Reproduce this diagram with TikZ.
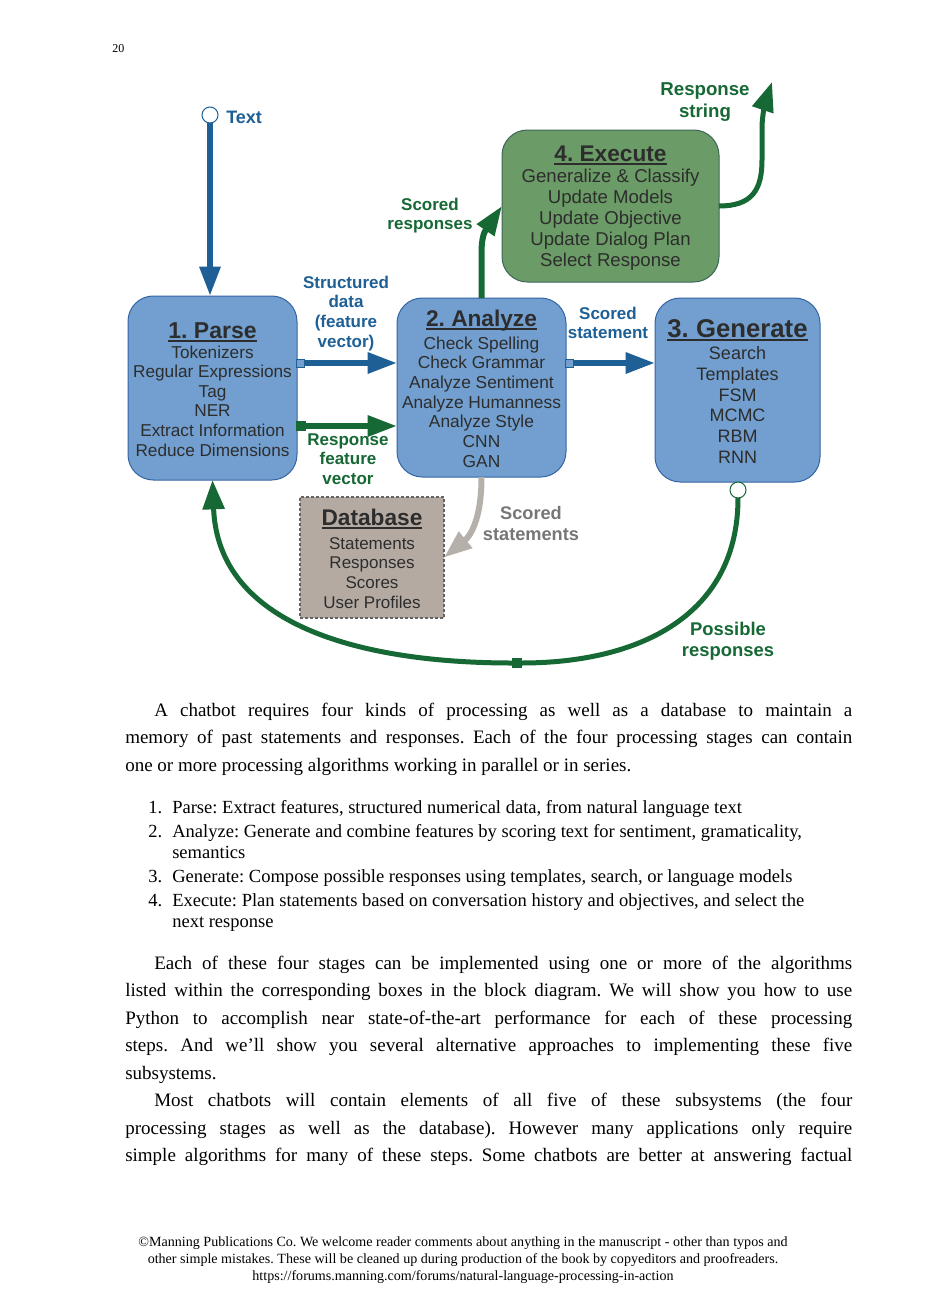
\documentclass[tikz,border=0pt]{standalone}
\usepackage{fontspec}
\setmainfont{Liberation Serif}
\newfontfamily\sans{Liberation Sans}
\usetikzlibrary{arrows.meta}
\definecolor{boxblue}{RGB}{114,159,207}
\definecolor{boxblueline}{RGB}{52,101,164}
\definecolor{boxgreen}{RGB}{107,155,102}
\definecolor{boxgreenline}{RGB}{62,102,90}
\definecolor{dbfill}{RGB}{180,170,162}
\definecolor{dbline}{RGB}{100,100,100}
\definecolor{arrblue}{RGB}{30,96,150}
\definecolor{arrgreen}{RGB}{22,104,52}
\definecolor{arrgrey}{RGB}{182,176,170}
\definecolor{lblgrey}{RGB}{118,118,118}
\definecolor{txt}{RGB}{45,45,45}
\newcommand\titleul[1]{\setbox0\hbox{#1}\rlap{\vrule height -1.5pt depth 3pt width \wd0}\box0}
\frenchspacing
\begin{document}
\begin{tikzpicture}[x=0.75pt,y=-0.75pt,
  box/.style={rounded corners=19pt, line width=0.75pt, inner sep=0pt, outer sep=0pt},
  bluebox/.style={box, draw=boxblueline, fill=boxblue},
  greenbox/.style={box, draw=boxgreenline, fill=boxgreen},
  dbbox/.style={inner sep=0pt, outer sep=0pt, draw=dbline, fill=dbfill, line width=1.1pt, dash pattern=on 2.25pt off 1.5pt},
  ttl/.style={font=\sans\bfseries\fontsize{17.25pt}{20pt}\selectfont, text=txt, anchor=base, inner sep=0pt},
  bodytxt/.style={font=\sans\fontsize{12.9pt}{15pt}\selectfont, text=txt, anchor=base, inner sep=0pt},
  lbl/.style={font=\sans\bfseries\fontsize{12.75pt}{15pt}\selectfont, anchor=base, inner sep=0pt},
  para/.style={font=\fontsize{14.25pt}{17pt}\selectfont, anchor=base west, inner sep=0pt, text=black},
  listtxt/.style={para, font=\fontsize{13.9pt}{16pt}\selectfont},
  foot/.style={font=\fontsize{10.55pt}{12pt}\selectfont, anchor=base, inner sep=0pt, text=black},
  sqb/.style={draw=arrblue, fill=boxblue, line width=0.75pt, minimum size=6pt, inner sep=0pt, outer sep=0pt},
  sqg/.style={draw=arrgreen, fill=arrgreen, line width=0.75pt, minimum size=6.5pt, inner sep=0pt, outer sep=0pt},
  bluearr/.style={draw=arrblue, line width=4.5pt, -{Triangle[length=22pt,width=15pt]}},
  greenarr/.style={draw=arrgreen, line width=4.5pt, -{Triangle[length=22pt,width=15pt]}},
  greenthin/.style={draw=arrgreen, line width=3.75pt},
  greenthinarr/.style={draw=arrgreen, line width=3.75pt, -{Triangle[length=22pt,width=16pt]}},
  greyarr/.style={draw=arrgrey, line width=4.5pt, -{Triangle[length=21pt,width=15pt]}}
]
\fill[white] (0,0) rectangle (926,1310);
\useasboundingbox (0,0) rectangle (926,1310);

% page number
\node[anchor=base west, inner sep=0pt, font=\fontsize{9pt}{11pt}\selectfont] (pnum) at (112,52) {20};

% boxes
\node[bluebox, minimum width=126.75pt, minimum height=138pt] (parse) at (212.5,388) {};
\node[bluebox, minimum width=126.75pt, minimum height=134.25pt] (analyze) at (481.5,387.5) {};
\node[bluebox, minimum width=123.75pt, minimum height=138pt] (generate) at (737.5,390) {};
\node[greenbox, minimum width=162.75pt, minimum height=114pt] (exec) at (610.5,206) {};
\node[dbbox, minimum width=108pt, minimum height=90.75pt] (db) at (372,557.5) {};

% box texts
\node[ttl] (parsettl) at (212.5,338) {\titleul{1. Parse}};
\foreach \t [count=\i from 0] in {Tokenizers,Regular Expressions,Tag,NER,Extract Information,Reduce Dimensions}
  \node[bodytxt] (p\i) at (212.5,{358+\i*19.6}) {\t};

\node[ttl, font=\sans\bfseries\fontsize{17pt}{20pt}\selectfont] (anattl) at (481.5,326) {\titleul{2. Analyze}};
\foreach \t [count=\i from 0] in {Check Spelling,Check Grammar,Analyze Sentiment,Analyze Humanness,Analyze Style,CNN,GAN}
  \node[bodytxt, font=\sans\fontsize{13pt}{15pt}\selectfont] (a\i) at (481.5,{349+\i*19.67}) {\t};

\node[ttl, font=\sans\bfseries\fontsize{19.3pt}{22pt}\selectfont] (genttl) at (737.5,337) {\titleul{3. Generate}};
\foreach \t [count=\i from 0] in {Search,Templates,FSM,MCMC,RBM,RNN}
  \node[bodytxt, font=\sans\fontsize{13.5pt}{16pt}\selectfont] (g\i) at (737.5,{359.5+\i*20.8}) {\t};

\node[ttl, font=\sans\bfseries\fontsize{17pt}{20pt}\selectfont] (exttl) at (610.5,161) {\titleul{4. Execute}};
\foreach \t [count=\i from 0] in {Generalize \& Classify,Update Models,Update Objective,Update Dialog Plan,Select Response}
  \node[bodytxt, font=\sans\fontsize{13.95pt}{16pt}\selectfont] (e\i) at (610.5,{182.5+\i*21}) {\t};

\node[ttl, font=\sans\bfseries\fontsize{17pt}{20pt}\selectfont] (dbttl) at (372,525) {\titleul{Database}};
\foreach \t [count=\i from 0] in {Statements,Responses,Scores,User Profiles}
  \node[bodytxt, font=\sans\fontsize{12.75pt}{15pt}\selectfont] (d\i) at (372,{549+\i*19.7}) {\t};

% terminals and small squares
\node[circle, draw=arrblue, fill=white, line width=0.75pt, minimum size=12pt, inner sep=0pt, outer sep=0pt] (tcirc) at (210,115) {};
\node[circle, draw=arrgreen, fill=white, line width=0.75pt, minimum size=12pt, inner sep=0pt, outer sep=0pt] (gcirc) at (738,490) {};
\node[sqb] (sq1) at (300,363) {};
\node[sqg] (sq2) at (301,426) {};
\node[sqb] (sq3) at (569.5,363) {};
\node[sqg] (sq4) at (517,663) {};
\coordinate (rstip) at (772,82);

% connectors
\draw[bluearr] (tcirc.south) -- (tcirc.south |- parse.north);
\draw[bluearr] (sq1.east) -- (analyze.west |- sq1);
\draw[greenarr] (sq2.east) -- (analyze.west |- sq2);
\draw[bluearr] (sq3.east) -- (generate.west |- sq3);
\draw[greenarr] (analyze.north) -- ++(0,-45) .. controls +(0,-17) and (485,231) .. (exec.west);
\draw[greenthinarr] (exec.east) .. controls (752,206) and (762,190) .. (762,160) -- (762,128) .. controls (762,115) and (766,100) .. (rstip);
\draw[greyarr] (analyze.south) .. controls (481.5,522) and (469,537) .. (db.east);
\draw[greenthin] (gcirc.south) .. controls (738,615) and (640,663) .. (sq4.east);
\draw[greenthinarr] (sq4.west) .. controls (360,663) and (218,625) .. (parse.south);

% labels
\node[lbl, anchor=base west, text=arrblue, font=\sans\bfseries\fontsize{13.5pt}{16pt}\selectfont] (ltext) at (226,123.5) {Text};
\foreach \t [count=\i from 0] in {Structured,data,{(feature},{vector)}}
  \node[lbl, text=arrblue] (ls\i) at (346,{288+\i*19.7}) {\t};
\foreach \t [count=\i from 0] in {Response,feature,vector}
  \node[lbl, text=arrgreen] (lr\i) at (348,{445+\i*19.6}) {\t};
\foreach \t [count=\i from 0] in {Scored,statement}
  \node[lbl, text=arrblue] (lst\i) at (608,{319+\i*19}) {\t};
\foreach \t [count=\i from 0] in {Scored,responses}
  \node[lbl, text=arrgreen] (lsr\i) at (430,{210+\i*19}) {\t};
\foreach \t [count=\i from 0] in {Response,string}
  \node[lbl, text=arrgreen, font=\sans\bfseries\fontsize{14pt}{16pt}\selectfont] (lrs\i) at (705,{95.5+\i*22}) {\t};
\foreach \t [count=\i from 0] in {Scored,statements}
  \node[lbl, text=lblgrey, font=\sans\bfseries\fontsize{13.65pt}{16pt}\selectfont] (lss\i) at (531,{519.5+\i*21}) {\t};
\foreach \t [count=\i from 0] in {Possible,responses}
  \node[lbl, text=arrgreen, font=\sans\bfseries\fontsize{13.8pt}{16pt}\selectfont] (lpr\i) at (728,{635.5+\i*21}) {\t};

% body text
\node[para] (t1) at (154,716) {\makebox[523.5pt][s]{A chatbot requires four kinds of processing as well as a database to maintain a}};
\node[para] (t2) at (125,743.5) {\makebox[545.25pt][s]{memory of past statements and responses. Each of the four processing stages can contain}};
\node[para] (t3) at (125,771) {one or more processing algorithms working in parallel or in series.};

\node[listtxt] (n1) at (148,813) {1.};
\node[listtxt] (i1) at (172,813) {Parse: Extract features, structured numerical data, from natural language text};
\node[listtxt] (n2) at (148,837) {2.};
\node[listtxt] (i2) at (172,837) {Analyze: Generate and combine features by scoring text for sentiment, gramaticality,};
\node[listtxt] (i2b) at (172,858) {semantics};
\node[listtxt] (n3) at (148,882) {3.};
\node[listtxt] (i3) at (172,882) {Generate: Compose possible responses using templates, search, or language models};
\node[listtxt] (n4) at (148,906) {4.};
\node[listtxt] (i4) at (172,906) {Execute: Plan statements based on conversation history and objectives, and select the};
\node[listtxt] (i4b) at (172,927) {next response};

\node[para] (u1) at (154,969) {\makebox[523.5pt][s]{Each of these four stages can be implemented using one or more of the algorithms}};
\node[para] (u2) at (125,996.5) {\makebox[545.25pt][s]{listed within the corresponding boxes in the block diagram. We will show you how to use}};
\node[para] (u3) at (125,1024) {\makebox[545.25pt][s]{Python to accomplish near state-of-the-art performance for each of these processing}};
\node[para] (u4) at (125,1051.5) {\makebox[545.25pt][s]{steps. And we’ll show you several alternative approaches to implementing these five}};
\node[para] (u5) at (125,1079) {subsystems.};

\node[para] (v1) at (154,1106.5) {\makebox[523.5pt][s]{Most chatbots will contain elements of all five of these subsystems (the four}};
\node[para] (v2) at (125,1134) {\makebox[545.25pt][s]{processing stages as well as the database). However many applications only require}};
\node[para] (v3) at (125,1161.5) {\makebox[545.25pt][s]{simple algorithms for many of these steps. Some chatbots are better at answering factual}};

% footer
\node[foot] (f1) at (463,1246.5) {©Manning Publications Co. We welcome reader comments about anything in the manuscript - other than typos and};
\node[foot] (f2) at (463,1263.5) {other simple mistakes. These will be cleaned up during production of the book by copyeditors and proofreaders.};
\node[foot] (f3) at (463,1280.5) {https://forums.manning.com/forums/natural-language-processing-in-action};
\end{tikzpicture}
\end{document}
